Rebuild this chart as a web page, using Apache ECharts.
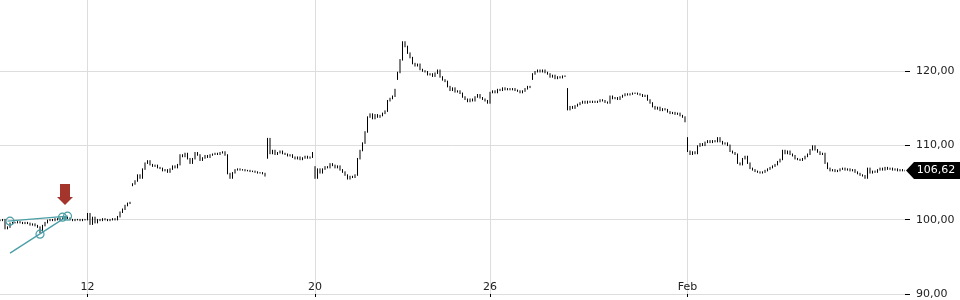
<!DOCTYPE html>
<html>
<head>
<meta charset="utf-8">
<script src="https://cdn.jsdelivr.net/npm/echarts@6/dist/echarts.min.js"></script>
<style>html,body{margin:0;padding:0;background:#fff}#c{width:960px;height:300px}</style>
</head>
<body>
<div id="c"></div>
<script>
const closes = [
99.9,100.0,98.8,99.0,99.5,99.6,99.6,99.7,99.6,99.5,
99.6,99.5,99.3,99.4,99.2,99.0,98.3,99.2,99.6,99.9,
100.0,99.9,100.1,100.0,100.2,100.1,100.3,100.2,100.0,99.9,
100.0,100.0,99.9,100.0,100.0,100.8,99.4,100.3,99.6,100.0,
99.9,100.1,100.0,99.9,100.0,100.1,100.0,100.4,101.0,101.4,
101.9,102.2,102.3,104.8,105.2,106.0,105.6,106.8,107.6,107.9,
107.4,107.2,107.3,107.0,106.9,106.6,106.7,106.4,106.8,107.2,
107.0,107.4,108.7,108.5,108.9,108.2,107.6,108.2,109.0,108.7,
108.0,108.3,108.6,108.4,108.7,108.8,108.9,108.8,109.0,109.1,
108.7,106.2,105.6,106.3,106.7,106.8,106.7,106.7,106.6,106.6,
106.5,106.5,106.4,106.3,106.3,106.2,105.9,110.9,108.9,109.3,
108.8,109.0,109.2,108.9,108.8,108.6,108.7,108.4,108.2,108.4,
108.1,108.3,108.5,108.3,108.4,109.0,105.6,106.8,106.3,106.8,
107.1,107.0,107.5,107.3,107.0,107.2,106.7,106.4,106.0,105.5,
105.8,105.7,106.0,108.2,109.3,110.3,111.8,113.8,114.2,113.6,
114.1,113.8,114.0,114.3,114.6,116.0,116.3,116.6,117.5,119.8,
121.5,123.9,123.3,122.4,121.8,121.0,120.7,120.9,120.2,120.0,
119.9,119.5,119.6,119.3,119.7,120.1,119.2,118.8,118.6,117.9,
117.4,117.7,117.2,117.3,117.0,116.5,116.2,115.9,116.2,116.0,
116.5,116.8,116.4,116.2,116.0,115.7,117.1,117.3,117.1,117.5,
117.4,117.7,117.5,117.6,117.5,117.6,117.4,117.3,117.1,117.3,
117.6,117.9,117.8,119.6,119.9,120.1,119.9,120.1,119.8,119.6,
119.2,119.4,119.0,119.2,119.1,119.3,119.3,114.8,115.2,115.0,
115.3,115.5,115.7,115.9,115.7,115.9,115.8,115.9,115.8,115.9,
116.1,116.0,115.8,115.7,116.6,116.3,116.4,116.2,116.5,116.7,
116.9,116.8,116.9,117.0,117.0,116.9,116.8,116.6,116.7,116.1,
115.7,115.2,114.9,115.1,114.7,114.9,114.8,114.5,114.3,114.4,
114.2,114.3,114.0,113.8,113.2,109.2,108.8,109.1,108.9,109.9,
110.2,110.0,110.4,110.6,110.4,110.6,110.5,111.0,110.5,110.2,
110.3,110.0,109.2,109.0,108.8,107.6,107.4,108.2,108.5,107.6,
106.9,106.7,106.5,106.4,106.3,106.4,106.6,106.8,107.0,107.2,
107.4,107.8,108.1,109.3,108.9,109.2,108.8,108.6,108.2,108.1,
108.0,108.2,108.5,108.8,109.4,109.9,109.4,109.1,108.8,108.9,
107.6,106.9,106.6,106.7,106.5,106.6,106.8,106.9,106.7,106.8,
106.6,106.7,106.4,106.2,106.0,105.9,105.6,106.9,106.3,106.5,
106.4,106.7,106.9,106.7,107.0,106.8,106.9,106.7,106.8,106.6,
106.7,106.6,106.62
];
// bars that open with a gap: [index, open]
const gapOpens = [[53,104.6],[107,108.3],[126,107.1],[159,118.9],[213,118.9],[227,117.6],[275,111.0]];
// x-axis tick labels: [index, text]
const tickLabels = [[35,'12'],[126,'20'],[196,'26'],[275,'Feb']];
// annotation trend lines: [[i,v],[i,v]]
const trendA = [[3.2,99.8],[27.2,100.47]];
const trendB = [[3.6,95.5],[27.2,100.47]];
const trendCircles = [[3.6,99.8],[16,98.05],[24.8,100.33],[27.2,100.47]];
const arrowPoint = [26,103.4];

const gapMap = {};
gapOpens.forEach(g => { gapMap[g[0]] = g[1]; });
const categories = closes.map(() => '');
tickLabels.forEach(t => { categories[t[0]] = t[1]; });
const bars = closes.map((c, i) => {
  const o = (i in gapMap) ? gapMap[i] : (i > 0 ? closes[i - 1] : c);
  return [o, c, Math.min(o, c) - 0.1, Math.max(o, c) + 0.1];
});
const last = closes[closes.length - 1];
const fmt = v => v.toFixed(2).replace('.', ',');
const teal = '#4a9ea6';
const showTick = (idx, val) => val !== '';

const chart = echarts.init(document.getElementById('c'), null, {renderer: 'canvas'});
chart.setOption({
  animation: false,
  grid: {left: 0, right: 55, top: 0, bottom: 6},
  xAxis: {
    type: 'category',
    data: categories,
    boundaryGap: false,
    axisLine: {show: true, lineStyle: {color: '#dddddd'}},
    axisTick: {show: true, inside: false, length: 3, interval: showTick, lineStyle: {color: '#000'}},
    axisLabel: {show: true, inside: true, margin: 1, interval: showTick, color: '#222', fontFamily: 'DejaVu Sans', fontSize: 11},
    splitLine: {show: true, interval: showTick, lineStyle: {color: '#dddddd'}}
  },
  yAxis: {
    type: 'value',
    position: 'right',
    min: 90, max: 129.55, interval: 10,
    axisLine: {show: false},
    axisTick: {show: true, length: 5, lineStyle: {color: '#000'}},
    axisLabel: {margin: 11, color: '#222', fontFamily: 'DejaVu Sans', fontSize: 11, showMaxLabel: false, formatter: v => fmt(v)},
    splitLine: {show: true, showMaxLine: false, lineStyle: {color: '#dddddd'}}
  },
  series: [
    {
      type: 'candlestick',
      data: bars,
      large: true,
      largeThreshold: 10,
      barWidth: 1,
      itemStyle: {color: '#000', color0: '#000', borderColor: '#000', borderColor0: '#000', borderWidth: 1}
    },
    {
      type: 'line', data: trendA, symbol: 'none', z: 5,
      lineStyle: {color: teal, width: 1.3}
    },
    {
      type: 'line', data: trendB, symbol: 'none', z: 5,
      lineStyle: {color: teal, width: 1.3}
    },
    {
      type: 'scatter', data: trendCircles, symbol: 'circle', symbolSize: 8, z: 6,
      itemStyle: {color: 'rgba(0,0,0,0)', borderColor: teal, borderWidth: 1.2, opacity: 1}
    },
    {
      type: 'scatter', data: [arrowPoint], z: 6,
      symbol: 'path://M3,0 H13 V13 H16 L8,21 L0,13 H3 Z', symbolSize: [16, 21],
      itemStyle: {color: '#a3352c', opacity: 1}
    },
    {
      type: 'scatter', data: [[closes.length - 1, last]], z: 7, clip: false,
      symbol: 'path://M0,8.5 L8,0 H54 V17 H8 Z', symbolSize: [54, 17], symbolOffset: [28, 0],
      itemStyle: {color: '#000', opacity: 1},
      label: {show: true, position: 'inside', offset: [3, 0], formatter: () => fmt(last), color: '#fff', fontFamily: 'DejaVu Sans', fontSize: 11}
    }
  ]
});
</script>
</body>
</html>
